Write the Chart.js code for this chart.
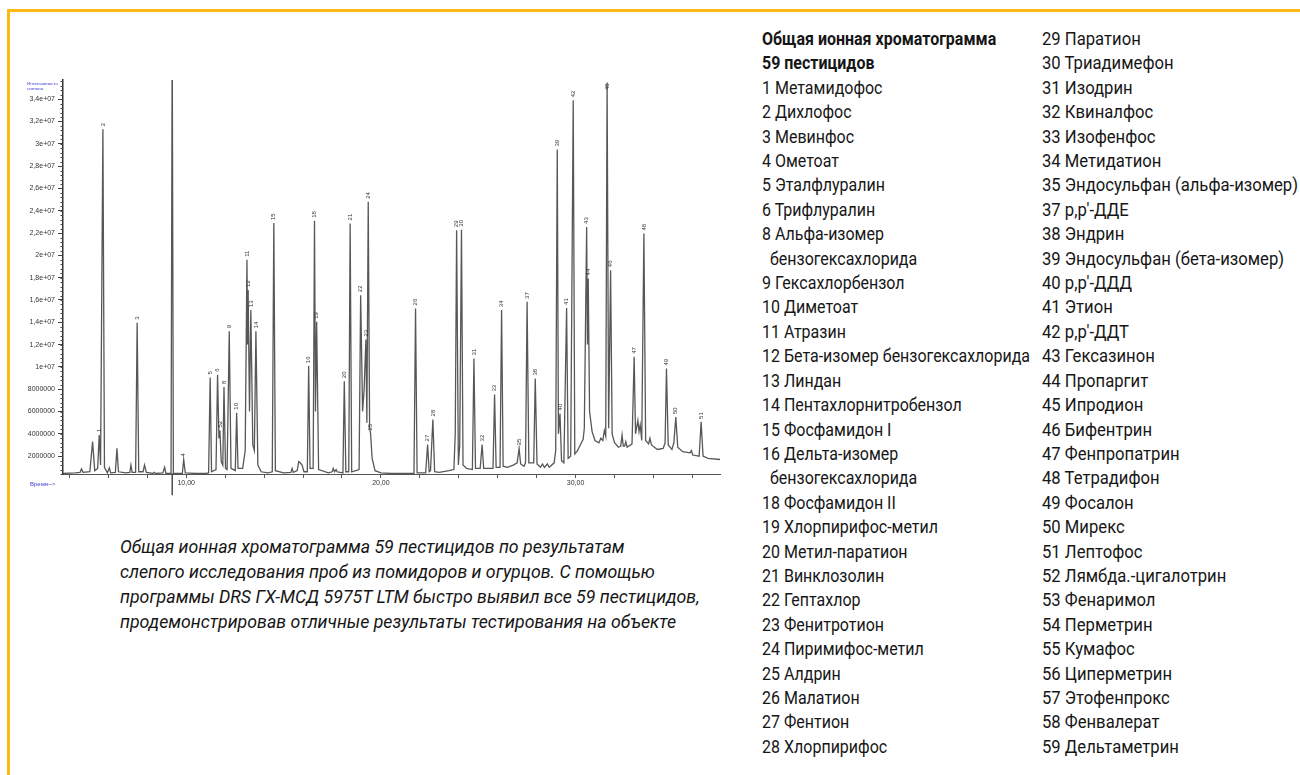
<!DOCTYPE html>
<html lang="ru">
<head>
<meta charset="utf-8">
<title>Общая ионная хроматограмма 59 пестицидов</title>
<script src="https://cdn.jsdelivr.net/npm/chart.js@4.4.1/dist/chart.umd.min.js"></script>
<style>
  html, body { margin:0; padding:0; background:#fff; }
  body { width:1300px; height:775px; position:relative; overflow:hidden; }
  .frame { position:absolute; background:#FDB913; }
  #chartBox { position:absolute; left:0; top:60px; width:730px; height:440px; }
  .txt { font-family:Roboto,"Liberation Sans",sans-serif; color:#161616; transform-origin:left top; }
  #caption { position:absolute; left:120px; top:534px; font-size:18px; line-height:25px; font-style:italic; white-space:nowrap; }
  .col { position:absolute; top:27px; font-size:18px; line-height:24.4px; white-space:nowrap; }
  #col1 { left:762px; }
  #col2 { left:1042px; }
  .b { font-weight:bold; }
  .ind { padding-left:9px; }
</style>
</head>
<body>
<div class="frame" style="left:7px;top:9px;width:1293px;height:2.5px"></div>
<div class="frame" style="left:7px;top:9px;width:2.5px;height:766px"></div>
<div id="chartBox"><canvas id="c"></canvas></div>
<div id="caption" class="txt"></div>
<div id="col1" class="col txt"></div>
<div id="col2" class="col txt"></div>
<script>
// ---- data ----
// retention time, minutes
const rtMinutes = [
 3.67,4.3,4.55,4.62,4.7,5.05,5.19,5.3,5.45,5.53,5.6,5.72,5.8,5.95,6.05,6.12,6.36,6.44,6.52,6.9,
 7.1,7.16,7.22,7.4,7.48,7.56,7.78,7.86,7.95,8.3,8.36,8.45,8.8,8.89,8.96,9.22,9.28,9.34,9.8,9.87,
 9.95,10.5,11.0,11.15,11.23,11.3,11.53,11.61,11.68,11.73,11.8,11.88,11.94,12.02,12.1,12.21,12.3,12.52,12.59,12.66,
 12.9,13.03,13.12,13.15,13.18,13.25,13.32,13.42,13.5,13.58,13.68,13.85,14.2,14.42,14.5,14.58,15.0,15.38,15.44,15.5,
 15.7,15.78,15.86,15.95,16.05,16.22,16.29,16.36,16.52,16.59,16.64,16.7,16.8,17.3,17.5,17.55,17.62,17.7,17.75,18.05,
 18.12,18.2,18.35,18.42,18.5,18.88,18.96,19.06,19.14,19.23,19.28,19.35,19.42,19.47,19.55,19.7,20.0,20.5,21.0,21.7,
 21.78,21.86,22.3,22.4,22.48,22.55,22.67,22.76,23.0,23.5,23.75,23.82,23.89,23.98,24.05,24.14,24.22,24.4,24.7,24.78,
 24.86,25.1,25.2,25.28,25.6,25.76,25.84,25.92,26.12,26.2,26.28,26.5,26.8,27.0,27.1,27.18,27.35,27.43,27.51,27.6,
 27.85,27.93,28.02,28.2,28.3,28.4,28.55,28.65,28.9,28.98,29.06,29.12,29.2,29.28,29.4,29.54,29.62,29.75,29.88,29.96,
 30.1,30.3,30.39,30.45,30.57,30.61,30.65,30.72,30.85,31.0,31.2,31.3,31.4,31.48,31.55,31.62,31.7,31.8,31.88,32.0,
 32.2,32.32,32.39,32.45,32.52,32.58,32.65,32.9,33.01,33.08,33.14,33.2,33.26,33.32,33.4,33.51,33.6,33.75,33.82,33.9,
 34.2,34.5,34.6,34.67,34.76,34.95,35.05,35.15,35.25,35.5,35.88,35.95,36.02,36.35,36.45,36.55,36.8,37.42
];
// total ion signal, counts
const signal = [
 0.45e6,0.5e6,0.55e6,0.85e6,0.55e6,0.6e6,3.3e6,0.7e6,0.9e6,3.9e6,1.2e6,31.3e6,1.0e6,0.5e6,0.95e6,0.5e6,0.55e6,2.7e6,0.6e6,0.5e6,
 0.55e6,1.2e6,0.55e6,0.55e6,13.95e6,0.6e6,0.6e6,1.2e6,0.55e6,0.45e6,0.55e6,0.45e6,0.5e6,1.0e6,0.45e6,0.45e6,40e6,0.45e6,0.45e6,1.7e6,
 0.5e6,0.45e6,0.45e6,0.5e6,9.05e6,0.6e6,0.8e6,9.3e6,3.6e6,4.3e6,1.5e6,1.2e6,8.2e6,0.9e6,0.8e6,13.2e6,0.9e6,0.7e6,5.9e6,0.9e6,
 0.9e6,2.5e6,19.6e6,12e6,16.9e6,6e6,15.1e6,3e6,2.5e6,13.2e6,1.2e6,0.6e6,0.5e6,0.6e6,22.9e6,0.7e6,0.5e6,0.55e6,0.9e6,0.55e6,
 0.7e6,1.5e6,1.4e6,1.2e6,0.6e6,0.6e6,10.07e6,0.9e6,0.9e6,23.1e6,6e6,14.04e6,0.8e6,0.5e6,0.6e6,0.9e6,0.6e6,0.8e6,0.6e6,0.5e6,
 8.72e6,0.6e6,0.6e6,22.86e6,0.6e6,0.8e6,16.43e6,6e6,8e6,12.46e6,5e6,24.8e6,4.5e6,4.03e6,1.8e6,0.7e6,0.5e6,0.45e6,0.45e6,0.45e6,
 15.24e6,0.5e6,0.5e6,3.05e6,0.6e6,0.7e6,5.29e6,0.6e6,0.55e6,0.7e6,0.8e6,4e6,22.26e6,1.2e6,3e6,22.3e6,1.2e6,0.9e6,0.8e6,10.76e6,
 0.9e6,0.9e6,3.05e6,0.9e6,0.9e6,0.9e6,7.53e6,1.0e6,1.0e6,15.09e6,1.1e6,1.0e6,1.2e6,1.4e6,2.69e6,1.3e6,1.1e6,1.4e6,15.83e6,1.4e6,
 1.4e6,8.96e6,1.3e6,1.0e6,1.3e6,1.0e6,1.3e6,1.0e6,1.4e6,2.5e6,29.49e6,4e6,5.83e6,1.6e6,1.4e6,15.29e6,1.8e6,2.0e6,33.9e6,2.2e6,
 2.5e6,3.2e6,3.5e6,4.5e6,22.55e6,12e6,17.93e6,6e6,4.2e6,3.4e6,3.2e6,3.6e6,3.4e6,4.3e6,3.8e6,35.5e6,4.5e6,18.67e6,4e6,3.2e6,
 2.8e6,2.9e6,3.9e6,2.9e6,2.9e6,3.3e6,2.8e6,3.1e6,10.9e6,4e6,4.6e6,5.2e6,4.2e6,4.8e6,3.4e6,21.96e6,3.4e6,3.1e6,3.6e6,3.0e6,
 2.6e6,2.7e6,3.2e6,9.86e6,3.0e6,2.6e6,3.2e6,5.5e6,2.8e6,2.4e6,2.3e6,2.5e6,2.1e6,2.0e6,5.07e6,2.0e6,1.8e6,1.7e6
];
// marker line of the off-scale peak, which runs through the time axis
const markerTime = [9.28, 9.28];
const markerSignal = [-1.5e6, 0.45e6];
// peak numbers marked on the chromatogram and their apexes
const peakNumbers = ['1','2','3','4','5','6','8','9','10','11','12','13','14','15','16','18','19','20','21','22','23','24','25','26','27','28','29','30','31','32','33','34','35','37','38','39','40','41','42','43','44','45','46','47','48','49','50','51','52'];
const peakTimes   = [5.53,5.72,7.48,9.87,11.23,11.61,11.94,12.21,12.59,13.12,13.18,13.32,13.58,14.5,16.29,16.59,16.7,18.12,18.42,18.96,19.23,19.35,19.47,21.78,22.4,22.67,23.89,24.14,24.78,25.2,25.84,26.2,27.1,27.51,27.93,29.06,29.2,29.54,29.88,30.57,30.65,31.62,31.8,33.01,33.51,34.67,35.15,36.45,11.73];
const peakHeights = [3.9e6,31.3e6,13.95e6,1.7e6,9.05e6,9.3e6,8.2e6,13.2e6,5.9e6,19.6e6,16.9e6,15.1e6,13.2e6,22.9e6,10.07e6,23.1e6,14.04e6,8.72e6,22.86e6,16.43e6,12.46e6,24.8e6,4.03e6,15.24e6,3.05e6,5.29e6,22.26e6,22.3e6,10.76e6,3.05e6,7.53e6,15.09e6,2.69e6,15.83e6,8.96e6,29.49e6,5.83e6,15.29e6,33.9e6,22.55e6,17.93e6,35.5e6,18.67e6,10.9e6,21.96e6,9.86e6,5.5e6,5.07e6,4.3e6];
// axis ticks
const xTickValues = [4,6,8,10,12,14,16,18,20,22,24,26,28,30,32,34,36];
const xTickLabels = {10:'10,00', 20:'20,00', 30:'30,00'};
const yTickValues = [2e6,4e6,6e6,8e6,10e6,12e6,14e6,16e6,18e6,20e6,22e6,24e6,26e6,28e6,30e6,32e6,34e6];
const yTickLabels = ['2000000','4000000','6000000','8000000','1e+07','1,2e+07','1,4e+07','1,6e+07','1,8e+07','2e+07','2,2e+07','2,4e+07','2,6e+07','2,8e+07','3e+07','3,2e+07','3,4e+07'];
const yMinorStep = 0.4e6;
const yAxisTitle = ['Интенсивность', 'сигнала'];
const xAxisTitle = 'Время-->';

// ---- texts ----
const captionLines = [
 'Общая ионная хроматограмма 59 пестицидов по результатам',
 'слепого исследования проб из помидоров и огурцов. С помощью',
 'программы DRS ГХ-МСД 5975T LTM быстро выявил все 59 пестицидов,',
 'продемонстрировав отличные результаты тестирования на объекте'
];
const legendTitle = ['Общая ионная хроматограмма', '59 пестицидов'];
const legendCol1 = ['1 Метамидофос','2 Дихлофос','3 Мевинфос','4 Ометоат','5 Эталфлуралин','6 Трифлуралин',
 '8 Альфа-изомер','\tбензогексахлорида','9 Гексахлорбензол','10 Диметоат','11 Атразин','12 Бета-изомер бензогексахлорида',
 '13 Линдан','14 Пентахлорнитробензол','15 Фосфамидон I','16 Дельта-изомер','\tбензогексахлорида','18 Фосфамидон II',
 '19 Хлорпирифос-метил','20 Метил-паратион','21 Винклозолин','22 Гептахлор','23 Фенитротион','24 Пиримифос-метил',
 '25 Алдрин','26 Малатион','27 Фентион','28 Хлорпирифос'];
const legendCol2 = ['29 Паратион','30 Триадимефон','31 Изодрин','32 Квиналфос','33 Изофенфос','34 Метидатион',
 '35 Эндосульфан (альфа-изомер)','37 p,p′-ДДЕ','38 Эндрин','39 Эндосульфан (бета-изомер)','40 p,p′-ДДД','41 Этион',
 '42 p,p′-ДДТ','43 Гексазинон','44 Пропаргит','45 Ипродион','46 Бифентрин','47 Фенпропатрин','48 Тетрадифон',
 '49 Фосалон','50 Мирекс','51 Лептофос','52 Лямбда.-цигалотрин','53 Фенаримол','54 Перметрин','55 Кумафос',
 '56 Циперметрин','57 Этофенпрокс','58 Фенвалерат','59 Дельтаметрин'];

// ---- build text blocks ----
function lineDiv(t, cls){ const d=document.createElement('div'); if(t.startsWith('\t')){ d.className='ind'; d.textContent=t.slice(1);} else d.textContent=t; if(cls) d.classList.add(cls); return d; }
const cap = document.getElementById('caption');
captionLines.forEach(t => cap.appendChild(lineDiv(t)));
const c1 = document.getElementById('col1');
legendTitle.forEach(t => c1.appendChild(lineDiv(t,'b')));
legendCol1.forEach(t => c1.appendChild(lineDiv(t)));
const c2 = document.getElementById('col2');
legendCol2.forEach(t => c2.appendChild(lineDiv(t)));

// condense the text horizontally to the width of the original condensed typeface
const mctx = document.createElement('canvas').getContext('2d');
function condense(el, sample, font, targetWidth){
  mctx.font = font;
  const s = targetWidth / mctx.measureText(sample).width;
  el.style.transform = 'scaleX(' + s.toFixed(4) + ')';
}
function applyCondense(){
  condense(c1, legendCol1[11], '18px Roboto', 268);
  condense(c2, legendCol2[6], '18px Roboto', 256);
  condense(cap, captionLines[3], 'italic 18px Roboto', 556);
}
applyCondense();
if (document.fonts && document.fonts.ready) document.fonts.ready.then(applyCondense);

// ---- chart ----
const trace = rtMinutes.map((t,i) => ({x:t, y:signal[i]}));
const marker = markerTime.map((t,i) => ({x:t, y:markerSignal[i]}));

const decorPlugin = {
  id:'decor',
  afterDatasetsDraw(chart){
    const {ctx, chartArea:a, scales:{x, y}} = chart;
    ctx.save();
    ctx.fillStyle = '#333';
    ctx.font = '6px "Liberation Sans", Arial, sans-serif';
    ctx.textAlign = 'left';
    ctx.textBaseline = 'middle';
    peakTimes.forEach((t,i) => {
      const px = x.getPixelForValue(t);
      let py = y.getPixelForValue(peakHeights[i]) - 3;
      if (py < a.top + 10) py = a.top + 10;
      ctx.save();
      ctx.translate(px, py);
      ctx.rotate(-Math.PI/2);
      ctx.fillText(peakNumbers[i], 0, 0);
      ctx.restore();
    });
    ctx.restore();
  },
  afterDraw(chart){
    const {ctx, chartArea:a, scales:{y}} = chart;
    ctx.save();
    ctx.strokeStyle = '#444';
    ctx.lineWidth = 1;
    ctx.beginPath();
    for (let v = yMinorStep; v < y.max; v += yMinorStep) {
      if (v < y.min) continue;
      const py = Math.round(y.getPixelForValue(v)) + 0.5;
      ctx.moveTo(a.left - 2.5, py); ctx.lineTo(a.left, py);
    }
    ctx.stroke();
    ctx.fillStyle = '#3b3bd0';
    ctx.textAlign = 'left';
    ctx.textBaseline = 'middle';
    ctx.font = '4.4px "Liberation Sans", Arial, sans-serif';
    ctx.fillText(yAxisTitle[0], a.left - 36, a.top + 4);
    ctx.fillText(yAxisTitle[1], a.left - 36, a.top + 9);
    ctx.font = '6px "Liberation Sans", Arial, sans-serif';
    ctx.fillText(xAxisTitle, a.left - 33, a.bottom + 10);
    ctx.restore();
  }
};

new Chart(document.getElementById('c'), {
  type:'line',
  data:{ datasets:[
    { data:trace, borderColor:'#575757', borderWidth:1.3, pointRadius:0, tension:0, fill:false },
    { data:marker, borderColor:'#333', borderWidth:1.3, pointRadius:0, tension:0, fill:false, clip:false }
  ] },
  options:{
    responsive:true, maintainAspectRatio:false, animation:false,
    layout:{ padding:{ top:20, right:10, left:0, bottom:0 } },
    plugins:{ legend:{display:false}, tooltip:{enabled:false} },
    scales:{
      x:{
        type:'linear', min:3.67, max:37.42,
        afterBuildTicks(s){ s.ticks = xTickValues.map(v => ({value:v})); },
        afterFit(s){ s.height = 26; },
        grid:{ drawOnChartArea:false, drawTicks:true, tickLength:4, color:'#555' },
        border:{ display:true, color:'#555', width:1 },
        ticks:{ autoSkip:false, maxRotation:0, padding:1, color:'#333',
          font:{ family:'"Liberation Sans", Arial, sans-serif', size:7 },
          callback:(v) => xTickLabels[v] || '' }
      },
      y:{
        type:'linear', min:0.4e6, max:35.72e6,
        afterBuildTicks(s){ s.ticks = yTickValues.map(v => ({value:v})); },
        afterFit(s){ s.width = 63; },
        grid:{ drawOnChartArea:false, drawTicks:true, tickLength:5, color:'#444' },
        border:{ display:true, color:'#333', width:1.5 },
        ticks:{ autoSkip:false, padding:3, color:'#333',
          font:{ family:'"Liberation Sans", Arial, sans-serif', size:7 },
          callback:(v) => { const i = yTickValues.indexOf(v); return i >= 0 ? yTickLabels[i] : ''; } }
      }
    }
  },
  plugins:[decorPlugin]
});
</script>
</body>
</html>
